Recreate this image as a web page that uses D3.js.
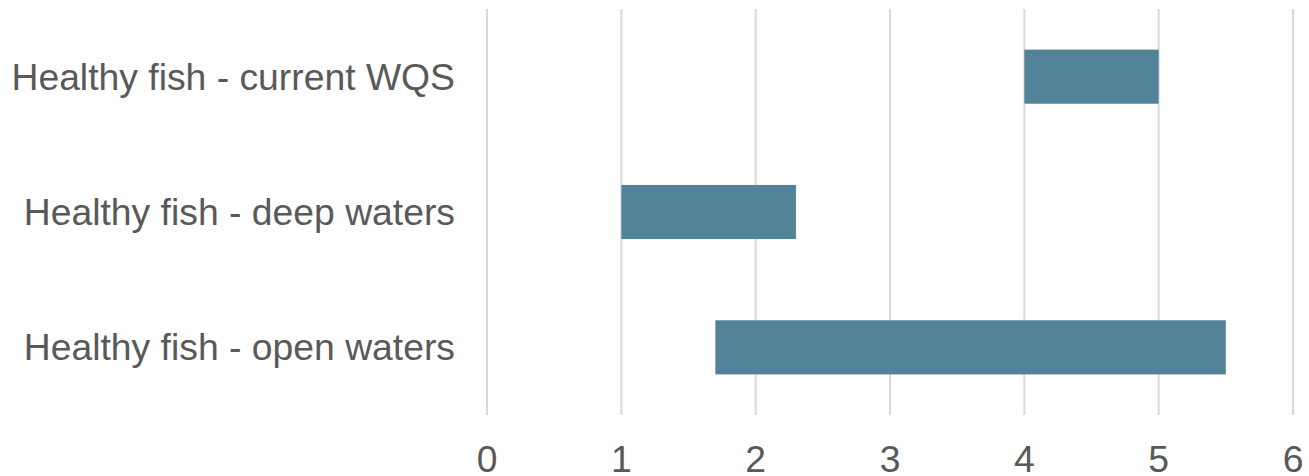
<!DOCTYPE html>
<html><head><meta charset="utf-8">
<script src="https://cdn.jsdelivr.net/npm/d3@7"></script>
<style>body{margin:0;background:#fff}svg{display:block}</style>
</head><body>
<script>
const categories = ["Healthy fish - current WQS", "Healthy fish - deep waters", "Healthy fish - open waters"];
const starts = [4, 1, 1.7];
const ends = [5, 2.3, 5.5];
const tickValues = [0, 1, 2, 3, 4, 5, 6];

const W = 1309, H = 476;
const m = {left: 487, right: 16, top: 9, bottom: 61};
const svg = d3.select("body").append("svg").attr("width", W).attr("height", H);
const x = d3.scaleLinear().domain([0, 6]).range([m.left, W - m.right]);
const y = d3.scaleBand().domain(categories).range([m.top, H - m.bottom]).paddingInner(0.6).paddingOuter(0.3);

svg.append("g").selectAll("line").data(tickValues).join("line")
  .attr("x1", d => x(d)).attr("x2", d => x(d))
  .attr("y1", m.top).attr("y2", H - m.bottom)
  .attr("stroke", "#d9d9d9").attr("stroke-width", 2);

const data = categories.map((c, i) => ({c, s: starts[i], e: ends[i]}));
svg.append("g").selectAll("rect").data(data).join("rect")
  .attr("x", d => x(d.s)).attr("width", d => x(d.e) - x(d.s))
  .attr("y", d => y(d.c)).attr("height", y.bandwidth())
  .attr("fill", "#528399");

svg.append("g").selectAll("text").data(categories).join("text")
  .attr("x", m.left - 32).attr("y", d => y(d) + y.bandwidth() / 2)
  .attr("dy", "0.35em").attr("text-anchor", "end")
  .attr("font-family", "Liberation Sans, Arial, sans-serif").attr("font-size", 37.3)
  .attr("fill", "#595959").text(d => d);

svg.append("g").selectAll("text").data(tickValues).join("text")
  .attr("x", d => x(d)).attr("y", 472)
  .attr("text-anchor", "middle")
  .attr("font-family", "Liberation Sans, Arial, sans-serif").attr("font-size", 37.3)
  .attr("fill", "#595959").text(d => d);
</script>
</body></html>
